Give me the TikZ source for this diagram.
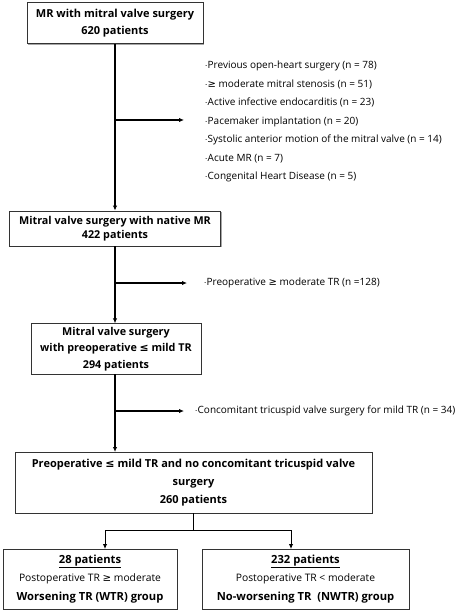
\documentclass[tikz,border=0pt]{standalone}
\usepackage{fontspec}
\setmainfont{Open Sans}
\newfontfamily\symfont{DejaVu Sans}
\usetikzlibrary{arrows.meta, positioning, calc, shadows}

\newcommand{\gesign}{{\symfont\char"2265}}
\newcommand{\lesign}{{\symfont\char"2264}}
\newcommand{\bigbold}[1]{{\fontsize{11.2}{18.5}\selectfont\bfseries #1}}

\begin{document}
\begin{tikzpicture}[x=1pt, y=-1pt, >={Latex[length=5pt,width=4.5pt]}, line width=1.8pt]
    % Define styles locally
    \tikzstyle{stagebox} = [draw=black!80, line width=0.9pt, fill=white, align=center,
        font=\fontsize{11}{17}\selectfont\bfseries,
        drop shadow={shadow xshift=1.2pt, shadow yshift=-1.2pt, fill=black!35, opacity=1}]
    \tikzstyle{groupbox} = [stagebox, font=\fontsize{10.3}{18.5}\selectfont]
    \tikzstyle{excl} = [align=left, anchor=west, inner sep=0pt,
        font=\fontsize{10}{18.5}\selectfont]

    \useasboundingbox (0,0) rectangle (474,612);

    % Stages
    \node[stagebox, minimum width=176pt, minimum height=41pt] (total) at (115,23)
        {MR with mitral valve surgery\\620 patients};
    \node[stagebox, minimum width=211pt, minimum height=35pt,
        font=\fontsize{10.8}{17}\selectfont\bfseries] (native) at (115,228.5)
        {Mitral valve surgery with native MR\\[-3pt]422 patients};
    \node[stagebox, minimum width=170pt, minimum height=50pt,
        font=\fontsize{10.8}{16.5}\selectfont\bfseries] (mildtr) at (116,349)
        {Mitral valve surgery\\with preoperative \lesign\ mild TR\\294 patients};
    \node[stagebox, minimum width=357pt, minimum height=61pt,
        font=\fontsize{11}{18}\selectfont\bfseries] (final) at (193.5,482.5)
        {Preoperative \lesign\ mild TR and no concomitant tricuspid valve\\surgery\\260 patients};

    % Groups
    \node[groupbox, minimum width=174pt, minimum height=60pt] (wtr) at (90,579)
        {\bigbold{\underline{28 patients}}\\Postoperative TR \gesign\ moderate\\\bigbold{Worsening TR (WTR) group}};
    \node[groupbox, minimum width=207pt, minimum height=60pt] (nwtr) at (305.5,579)
        {\bigbold{\underline{232 patients}}\\Postoperative TR < moderate\\\bigbold{No-worsening TR\ \ (NWTR) group}};

    % Exclusions
    \node[excl] (excl1) at (204,121.5)
        {$\cdot$Previous open-heart surgery (n = 78)\\
         $\cdot$\gesign\ moderate mitral stenosis (n = 51)\\
         $\cdot$Active infective endocarditis (n = 23)\\
         $\cdot$Pacemaker implantation (n = 20)\\
         $\cdot$Systolic anterior motion of the mitral valve (n = 14)\\
         $\cdot$Acute MR (n = 7)\\
         $\cdot$Congenital Heart Disease (n = 5)};
    \node[excl] (excl2) at (203,283)
        {$\cdot$Preoperative \gesign\ moderate TR (n =128)};
    \node[excl] (excl3) at (194,411)
        {$\cdot$Concomitant tricuspid valve surgery for mild TR (n = 34)};

    % Branch points
    \coordinate (b1) at (115,120);
    \coordinate (b2) at (115,283);
    \coordinate (b3) at (115,411);
    \coordinate (split) at (193.5,530);
    \coordinate (wtrin) at (105,549);
    \coordinate (nwtrin) at (291,549);

    % Main flow
    \draw[->] (total.south) -- (native.north);
    \draw[->] (native.south) -- (native.south |- mildtr.north);
    \draw[->] (115,374) -- (115,452) coordinate (finalin);

    % Exclusion arrows
    \draw[->] (b1) -- ($(excl1.west |- b1) + (-20,0)$);
    \draw[->] (b2) -- ($(excl2.west) + (-16,0)$);
    \draw[->] (b3) -- ($(excl3.west) + (-10,0)$);

    % Split into groups
    \draw[line width=0.9pt] (final.south) -- (split);
    \draw[->, line width=0.9pt] (split) -| (wtrin);
    \draw[->, line width=0.9pt] (split) -| (nwtrin);

\end{tikzpicture}
\end{document}
